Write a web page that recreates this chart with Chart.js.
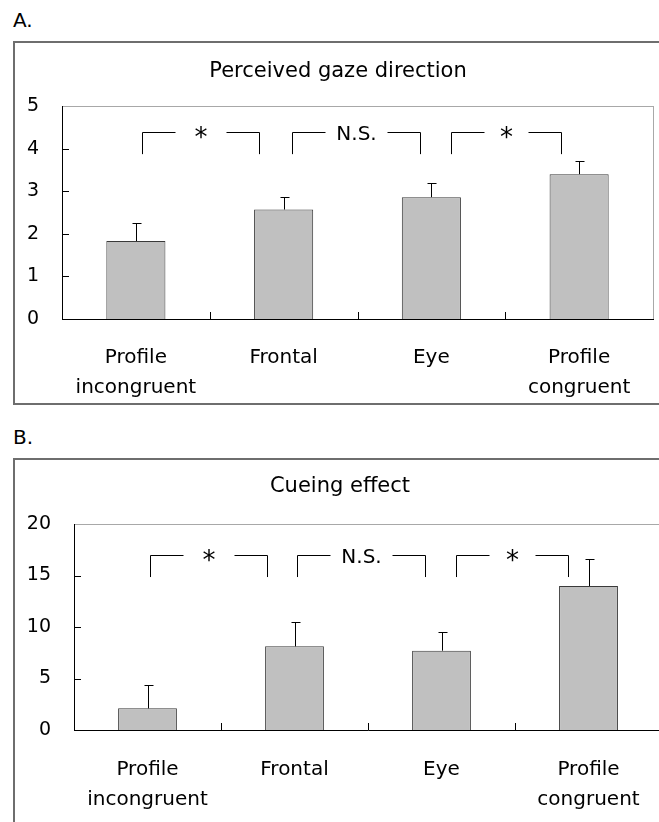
<!DOCTYPE html>
<html><head><meta charset="utf-8">
<script src="https://cdn.jsdelivr.net/npm/chart.js@4/dist/chart.umd.min.js"></script>
<style>
html,body{margin:0;padding:0;width:659px;height:822px;overflow:hidden;background:#fff;}
.lbl{position:absolute;left:13px;font:20px "DejaVu Sans";color:#000;line-height:20px;}
.box{position:absolute;border:2px solid #6e6e6e;box-sizing:border-box;}
canvas{position:absolute;}
</style></head><body>
<div class="lbl" style="top:10px">A.</div>
<div class="box" style="left:13px;top:41px;width:700px;height:364px"></div>
<canvas id="cA" width="680" height="362" style="left:0;top:42px"></canvas>
<div class="lbl" style="top:427px">B.</div>
<div class="box" style="left:13px;top:458px;width:700px;height:500px"></div>
<canvas id="cB" width="690" height="363" style="left:0;top:459px"></canvas>
<script>
// ---- data ----
const categories = [['Profile','incongruent'], 'Frontal', 'Eye', ['Profile','congruent']];
const gazeMeans  = [1.83, 2.57, 2.86, 3.40];
const gazeErrors = [0.42, 0.29, 0.34, 0.31];
const cueMeans   = [2.1, 8.12, 7.7, 13.98];
const cueErrors  = [2.27, 2.4, 1.84, 2.6];
const gazeTicks  = [0, 1, 2, 3, 4, 5];
const cueTicks   = [0, 5, 10, 15, 20];
const sigLabels  = ['*', 'N.S.', '*'];
const gazeTitle  = 'Perceived gaze direction';
const cueTitle   = 'Cueing effect';

const FONT = 'DejaVu Sans';

function makeDecor(errors, brackets) {
  return {
    id: 'decor',
    beforeDraw(chart) {
      const {ctx, chartArea: a} = chart;
      ctx.save();
      ctx.strokeStyle = '#a8a8a8'; ctx.lineWidth = 1;
      ctx.strokeRect(Math.round(a.left) + 0.5, Math.round(a.top) + 0.5,
                     Math.round(a.right - a.left), Math.round(a.bottom - a.top));
      ctx.restore();
    },
    afterDatasetsDraw(chart) {
      const {ctx, chartArea: a, scales: {x, y}} = chart;
      ctx.save();
      ctx.strokeStyle = '#000'; ctx.lineWidth = 1;
      // inward y ticks
      y.ticks.forEach(t => {
        if (t.value <= y.min || t.value >= y.max) return;
        const py = Math.round(y.getPixelForValue(t.value)) + 0.5;
        ctx.beginPath(); ctx.moveTo(a.left, py); ctx.lineTo(a.left + 7, py); ctx.stroke();
      });
      // inward x ticks between categories
      for (let i = 1; i < x.ticks.length; i++) {
        const px = Math.round(x.getPixelForValue(i - 0.5)) + 0.5;
        ctx.beginPath(); ctx.moveTo(px, a.bottom); ctx.lineTo(px, a.bottom - 7); ctx.stroke();
      }
      // error bars (upper only)
      const meta = chart.getDatasetMeta(0);
      const vals = chart.data.datasets[0].data;
      errors.forEach((e, i) => {
        const bar = meta.data[i];
        const px = Math.round(bar.x) + 0.5;
        const top = Math.round(y.getPixelForValue(vals[i] + e)) + 0.5;
        ctx.beginPath();
        ctx.moveTo(px, bar.y); ctx.lineTo(px, top);
        ctx.moveTo(px - 4, top); ctx.lineTo(px + 5, top);
        ctx.stroke();
      });
      // significance brackets
      ctx.fillStyle = '#000';
      brackets.forEach((b, i) => {
        const x1 = Math.round(x.getPixelForValue(b.from)) + 0.5;
        const x2 = Math.round(x.getPixelForValue(b.to)) + 0.5;
        const yt = Math.round(y.getPixelForValue(b.top)) + 0.5;
        const yb = y.getPixelForValue(b.bottom);
        ctx.beginPath();
        ctx.moveTo(x1, yb); ctx.lineTo(x1, yt); ctx.lineTo(x1 + 33, yt);
        ctx.moveTo(x2 - 33, yt); ctx.lineTo(x2, yt); ctx.lineTo(x2, yb);
        ctx.stroke();
        const lab = sigLabels[i];
        ctx.font = (lab === '*' ? '26px ' : '20px ') + '"' + FONT + '"';
        ctx.textAlign = 'center'; ctx.textBaseline = 'alphabetic';
        const m = ctx.measureText(lab);
        ctx.fillText(lab, (x1 + x2) / 2, yt + (m.actualBoundingBoxAscent - m.actualBoundingBoxDescent) / 2);
      });
      ctx.restore();
    }
  };
}

function makeChart(id, means, errors, ticks, ymax, title, geo, brackets) {
  return new Chart(document.getElementById(id), {
    type: 'bar',
    data: {
      labels: categories,
      datasets: [{
        data: means,
        backgroundColor: '#c0c0c0',
        borderColor: '#3a3a3a',
        borderWidth: 1,
        barPercentage: 0.4,
        categoryPercentage: 1
      }]
    },
    options: {
      responsive: false,
      animation: false,
      events: [],
      layout: { padding: { left: geo.padL, right: geo.padR, top: 0, bottom: 0 } },
      plugins: {
        legend: { display: false },
        tooltip: { enabled: false },
        title: {
          display: true, text: title, color: '#000',
          font: { family: FONT, size: 21, weight: 'normal', lineHeight: 1.2 },
          padding: { top: geo.tTop, bottom: geo.tBot }
        }
      },
      scales: {
        x: {
          afterFit: s => { s.height = geo.xH; },
          grid: { display: false, drawTicks: false },
          border: { display: true, color: '#000', width: 1 },
          ticks: { padding: geo.xPad, color: '#000', maxRotation: 0, autoSkip: false,
                   font: { family: FONT, size: 20, lineHeight: 1.5 } }
        },
        y: {
          min: 0, max: ymax,
          afterBuildTicks: s => { s.ticks = ticks.map(v => ({ value: v })); },
          afterFit: s => { s.width = geo.yW; },
          grid: { display: false, drawTicks: false },
          border: { display: true, color: '#000', width: 1 },
          ticks: { padding: 23, color: '#000', font: { family: FONT, size: 19 } }
        }
      }
    },
    plugins: [makeDecor(errors, brackets)]
  });
}

makeChart('cA', gazeMeans, gazeErrors, gazeTicks, 5, gazeTitle,
  { padL: 23, padR: 27, yW: 39, xH: 85, xPad: 24, tTop: 17.4, tBot: 21.4 },
  [ { from: 0.04, to: 0.83, top: 4.39, bottom: 3.87 },
    { from: 1.06, to: 1.92, top: 4.39, bottom: 3.87 },
    { from: 2.13, to: 2.88, top: 4.39, bottom: 3.87 } ]);

makeChart('cB', cueMeans, cueErrors, cueTicks, 20, cueTitle,
  { padL: 18, padR: 28, yW: 56, xH: 92, xPad: 25, tTop: 15.4, tBot: 24.4 },
  [ { from: 0.02, to: 0.81, top: 17.0, bottom: 14.85 },
    { from: 1.02, to: 1.89, top: 17.0, bottom: 14.85 },
    { from: 2.10, to: 2.86, top: 17.0, bottom: 14.85 } ]);
</script>
</body></html>
